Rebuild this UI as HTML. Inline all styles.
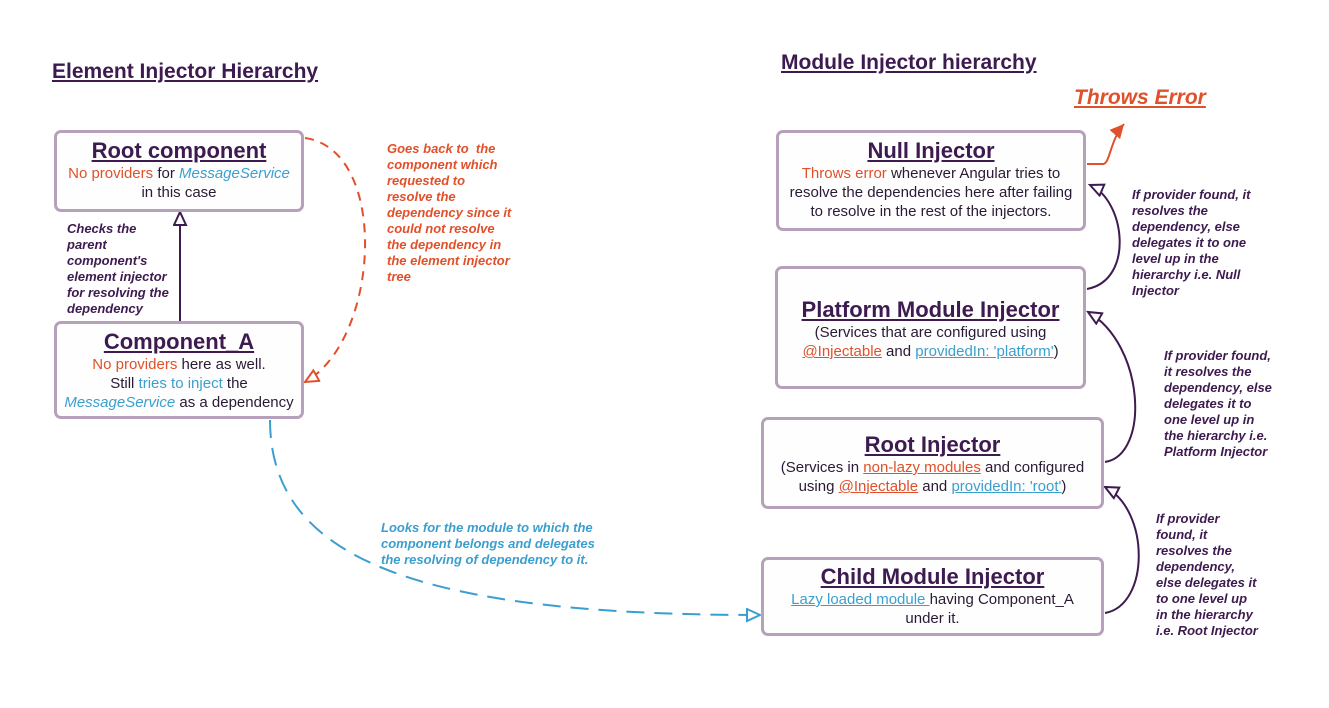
<!DOCTYPE html>
<html><head><meta charset="utf-8"><style>
body{margin:0;width:1329px;height:708px;background:#fff;position:relative;overflow:hidden;font-family:"Liberation Sans",sans-serif;color:#2a1a35}
.box{position:absolute;border:3px solid #b7a0bb;border-radius:7px;background:#fefefe;text-align:center;box-sizing:border-box;font-size:15px;line-height:19px}
.t{font-weight:bold;font-size:22px;color:#3d1a4f;text-decoration:underline;line-height:26px;display:block}
.o{color:#e0502a}.b{color:#3a9fcf}.i{font-style:italic}
.ou{color:#e0502a;text-decoration:underline}.bu{color:#3a9fcf;text-decoration:underline}
.h{position:absolute;font-weight:bold;font-size:21px;color:#3d1a4f;text-decoration:underline}
.n{position:absolute;font-weight:bold;font-style:italic;font-size:13px;line-height:16px;color:#3d1a4f}
svg{position:absolute;left:0;top:0}
</style></head><body>
<svg width="1329" height="708">
<defs>
<marker id="ap" markerWidth="16" markerHeight="16" refX="14" refY="7" orient="auto" markerUnits="userSpaceOnUse"><path d="M1,1 L14,7 L1,13 Z" fill="#fff" stroke="#3d1a4f" stroke-width="2"/></marker>
<marker id="ao" markerWidth="16" markerHeight="16" refX="14" refY="7" orient="auto" markerUnits="userSpaceOnUse"><path d="M1,1 L14,7 L1,13 Z" fill="#fff" stroke="#e0502a" stroke-width="2"/></marker>
<marker id="ab" markerWidth="16" markerHeight="16" refX="14" refY="7" orient="auto" markerUnits="userSpaceOnUse"><path d="M1,1 L14,7 L1,13 Z" fill="#fff" stroke="#3a9fcf" stroke-width="2"/></marker>
<marker id="af" markerWidth="16" markerHeight="16" refX="14" refY="7" orient="auto" markerUnits="userSpaceOnUse"><path d="M0,0 L14,7 L0,14 Z" fill="#e0502a"/></marker>
</defs>
<path d="M180,322 L180,212" stroke="#3d1a4f" stroke-width="2" fill="none" marker-end="url(#ap)"/>
<path d="M305,138 C390,150 380,340 305,382" stroke="#e0502a" stroke-width="2" stroke-dasharray="9,7" fill="none" marker-end="url(#ao)"/>
<path d="M270,420 C270,560 420,615 760,615" stroke="#3a9fcf" stroke-width="2" stroke-dasharray="18,10" fill="none" marker-end="url(#ab)"/>
<path d="M1087,164 L1103,164 C1110,164 1110,140 1124,124" stroke="#e0502a" stroke-width="2" fill="none" marker-end="url(#af)"/>
<path d="M1087,289 C1135,280 1125,200 1090,185" stroke="#3d1a4f" stroke-width="2" fill="none" marker-end="url(#ap)"/>
<path d="M1105,462 C1150,455 1145,345 1088,312" stroke="#3d1a4f" stroke-width="2" fill="none" marker-end="url(#ap)"/>
<path d="M1105,613 C1150,605 1150,510 1105,487" stroke="#3d1a4f" stroke-width="2" fill="none" marker-end="url(#ap)"/>
</svg>
<div class="h" style="left:52px;top:60px">Element Injector Hierarchy</div>
<div class="h" style="left:781px;top:51px">Module Injector hierarchy</div>
<div class="h" style="left:1074px;top:86px;color:#e0502a;font-style:italic">Throws Error</div>

<div class="box" style="left:54px;top:130px;width:250px;height:82px;padding-top:5px"><span class="t">Root component</span><span class="o">No providers</span> for <span class="b i">MessageService</span><br>in this case</div>
<div class="box" style="left:54px;top:321px;width:250px;height:98px;padding-top:5px"><span class="t">Component_A</span><span class="o">No providers</span> here as well.<br>Still <span class="b">tries to inject</span> the<br><span class="b i">MessageService</span> as a dependency</div>

<div class="n" style="left:67px;top:221px">Checks the<br>parent<br>component's<br>element injector<br>for resolving the<br>dependency</div>
<div class="n" style="left:387px;top:141px;color:#e0502a">Goes back to &nbsp;the<br>component which<br>requested to<br>resolve the<br>dependency since it<br>could not resolve<br>the dependency in<br>the element injector<br>tree</div>
<div class="n" style="left:381px;top:520px;color:#3a9fcf">Looks for the module to which the<br>component belongs and delegates<br>the resolving of dependency to it.</div>

<div class="box" style="left:776px;top:130px;width:310px;height:101px;padding-top:5px"><span class="t">Null Injector</span><span class="o">Throws error</span> whenever Angular tries to<br>resolve the dependencies here after failing<br>to resolve in the rest of the injectors.</div>
<div class="box" style="left:775px;top:266px;width:311px;height:123px;padding-top:28px"><span class="t">Platform Module Injector</span>(Services that are configured using<br><span class="ou">@Injectable</span> and <span class="bu">providedIn: 'platform'</span>)</div>
<div class="box" style="left:761px;top:417px;width:343px;height:92px;padding-top:12px"><span class="t">Root Injector</span>(Services in <span class="ou">non-lazy modules</span> and configured<br>using <span class="ou">@Injectable</span> and <span class="bu">providedIn: 'root'</span>)</div>
<div class="box" style="left:761px;top:557px;width:343px;height:79px;padding-top:4px"><span class="t">Child Module Injector</span><span class="bu">Lazy loaded module </span>having Component_A<br>under it.</div>

<div class="n" style="left:1132px;top:187px">If provider found, it<br>resolves the<br>dependency, else<br>delegates it to one<br>level up in the<br>hierarchy i.e. Null<br>Injector</div>
<div class="n" style="left:1164px;top:348px">If provider found,<br>it resolves the<br>dependency, else<br>delegates it to<br>one level up in<br>the hierarchy i.e.<br>Platform Injector</div>
<div class="n" style="left:1156px;top:511px">If provider<br>found, it<br>resolves the<br>dependency,<br>else delegates it<br>to one level up<br>in the hierarchy<br>i.e. Root Injector</div>
</body></html>
